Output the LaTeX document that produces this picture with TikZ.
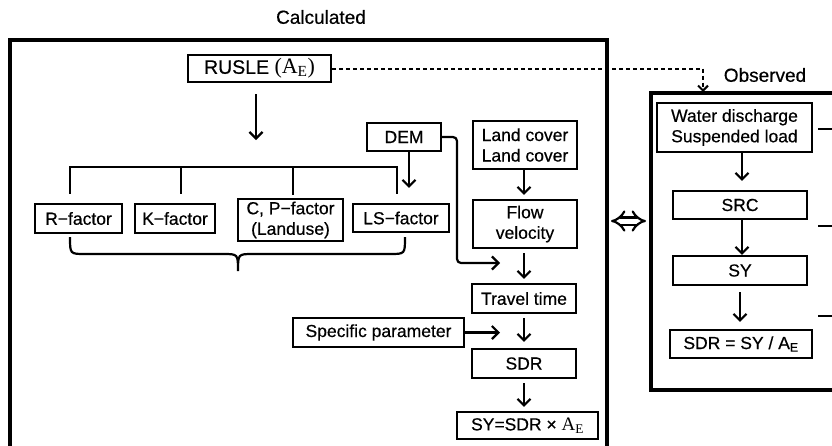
\documentclass[tikz,border=0pt]{standalone}
\usepackage{fontspec}
\setmainfont{Liberation Sans}[FakeBold=0.5]
\newfontfamily\serifpart{Liberation Serif}
\usetikzlibrary{arrows.meta}
\begin{document}
\begin{tikzpicture}[x=1pt,y=-1pt,
  box/.style={draw, line width=2.2pt, inner sep=0pt, align=center,
    font=\fontsize{17.5}{20.5}\selectfont},
  ln/.style={line width=2.2pt},
  arr/.style={line width=2.2pt, -{Straight Barb[length=6.5pt,width=13pt,line width=2.2pt]}},
  frame/.style={line width=3.2pt},
  title/.style={font=\fontsize{19}{22}\selectfont}]
\useasboundingbox (0,0) rectangle (832,445);

% outer frames
\draw[frame] (10,446) -- (10,40) -- (607,40) -- (607,446);
\draw[frame] (833,93) -- (651,93) -- (651,390) -- (833,390);
\node[title] (tcalc) at (321,17) {Calculated};
\node[title] (tobs) at (765,75) {Observed};

% calculated side
\node[box, minimum width=143pt, minimum height=27pt] (rusle) at (259.5,68.5)
  {\fontsize{19.5}{21}\selectfont RUSLE {\serifpart\fontsize{22}{22}\selectfont(A\textsubscript{E})}};
\node[box, minimum width=74pt, minimum height=28pt] (dem) at (404,137) {DEM};
\node[box, minimum width=104pt, minimum height=48pt] (land) at (525,145) {Land cover\\Land cover};
\node[box, minimum width=104pt, minimum height=48pt] (flow) at (525,224) {Flow\\velocity};
\node[box, minimum width=104pt, minimum height=29pt] (travel) at (524,298.5) {Travel time};
\node[box, minimum width=104pt, minimum height=29pt] (sdr) at (524,363.5) {SDR};
\node[box, minimum width=141pt, minimum height=27pt] (sy) at (527.5,425.5)
  {SY=SDR × {\serifpart\fontsize{19}{20}\selectfont A\textsubscript{E}}};
\node[box, minimum width=171pt, minimum height=29pt] (spec) at (378.5,332.5) {Specific parameter};
\node[box, minimum width=87pt, minimum height=29pt] (rf) at (78.5,218.5) {R−factor};
\node[box, minimum width=80pt, minimum height=29pt] (kf) at (175,218.5) {K−factor};
\node[box, minimum width=105pt, minimum height=42pt] (cp) at (290.5,220)
  {\fontsize{17.5}{17}\selectfont C, P−factor\\(Landuse)};
\node[box, minimum width=96pt, minimum height=28pt] (ls) at (401,218) {LS−factor};

% observed side
\node[box, minimum width=155pt, minimum height=49pt] (wd) at (734.5,127.5) {Water discharge\\Suspended load};
\node[box, minimum width=134pt, minimum height=28pt] (src) at (740,205) {SRC};
\node[box, minimum width=134pt, minimum height=29pt] (syo) at (740,270.5) {SY};
\node[box, minimum width=142pt, minimum height=28pt] (sdro) at (741,344)
  {SDR = SY / A\textsubscript{E}};

% factor bracket
\coordinate (brl) at (70,167);
\coordinate (brr) at (397,167);
\coordinate (ruslein) at (256,140);
\draw[arr, shorten <=11pt] (rusle.south -| ruslein) -- (ruslein);
\draw[ln] ([yshift=9pt]rf.north -| brl) -- (brl) -- (brr) -- ([yshift=9pt]ls.north -| brr);
\draw[ln] ([yshift=9pt]kf.north -| 181,0) -- (181,167);
\draw[ln] ([yshift=3pt]cp.north -| 293,0) -- (293,167);

% brace below the factors
\draw[ln] (70,237) .. controls (70,254) .. (85,254) -- (223,254)
  .. controls (238,254) .. (238,271) .. controls (238,254) .. (253,254)
  -- (390,254) .. controls (405,254) .. (405,237);

% DEM connections
\coordinate (demin) at (500,263);
\draw[arr, shorten >=15pt] (dem.south -| 409,0) -- (ls.north -| 409,0);
\draw[arr, rounded corners=4pt] (dem.east) -| (457,263) -- (demin);

% main chain
\draw[arr, shorten >=4pt] (land.south -| 524,0) -- (flow.north -| 524,0);
\draw[arr, shorten <=4pt, shorten >=4pt] (flow.south -| 524,0) -- (travel.north);
\draw[arr, shorten <=4pt, shorten >=6pt] (travel.south) -- (sdr.north);
\draw[arr, shorten <=4pt, shorten >=4pt] (sdr.south -| 524,0) -- (sy.north -| 524,0);
\coordinate (specin) at (500,332.5);
\draw[arr] (spec.east) -- (specin);

% observed chain
\draw[arr, shorten >=9pt] (wd.south -| 742,0) -- (src.north -| 742,0);
\draw[arr] (src.south -| 742,0) -- (syo.north -| 742,0);
\draw[arr, shorten <=6pt, shorten >=7pt] (syo.south) -- (sdro.north -| 740,0);

% link between calculated and observed
\coordinate (obsin) at (703,92);
\draw[line width=2pt, dash pattern=on 4pt off 3pt,
  -{Straight Barb[length=5pt,width=10pt,line width=2pt]}]
  (rusle.east) -- (rusle.east -| obsin) -- (obsin);
\draw[line width=2.2pt, double distance=5pt, {Implies[length=9pt]}-{Implies[length=9pt]}]
  (611,221) -- (646,221);

% ticks at the right edge
\draw[ln] (818,129) -- (833,129);
\draw[ln] (818,226) -- (833,226);
\draw[ln] (818,316) -- (833,316);
\end{tikzpicture}
\end{document}
